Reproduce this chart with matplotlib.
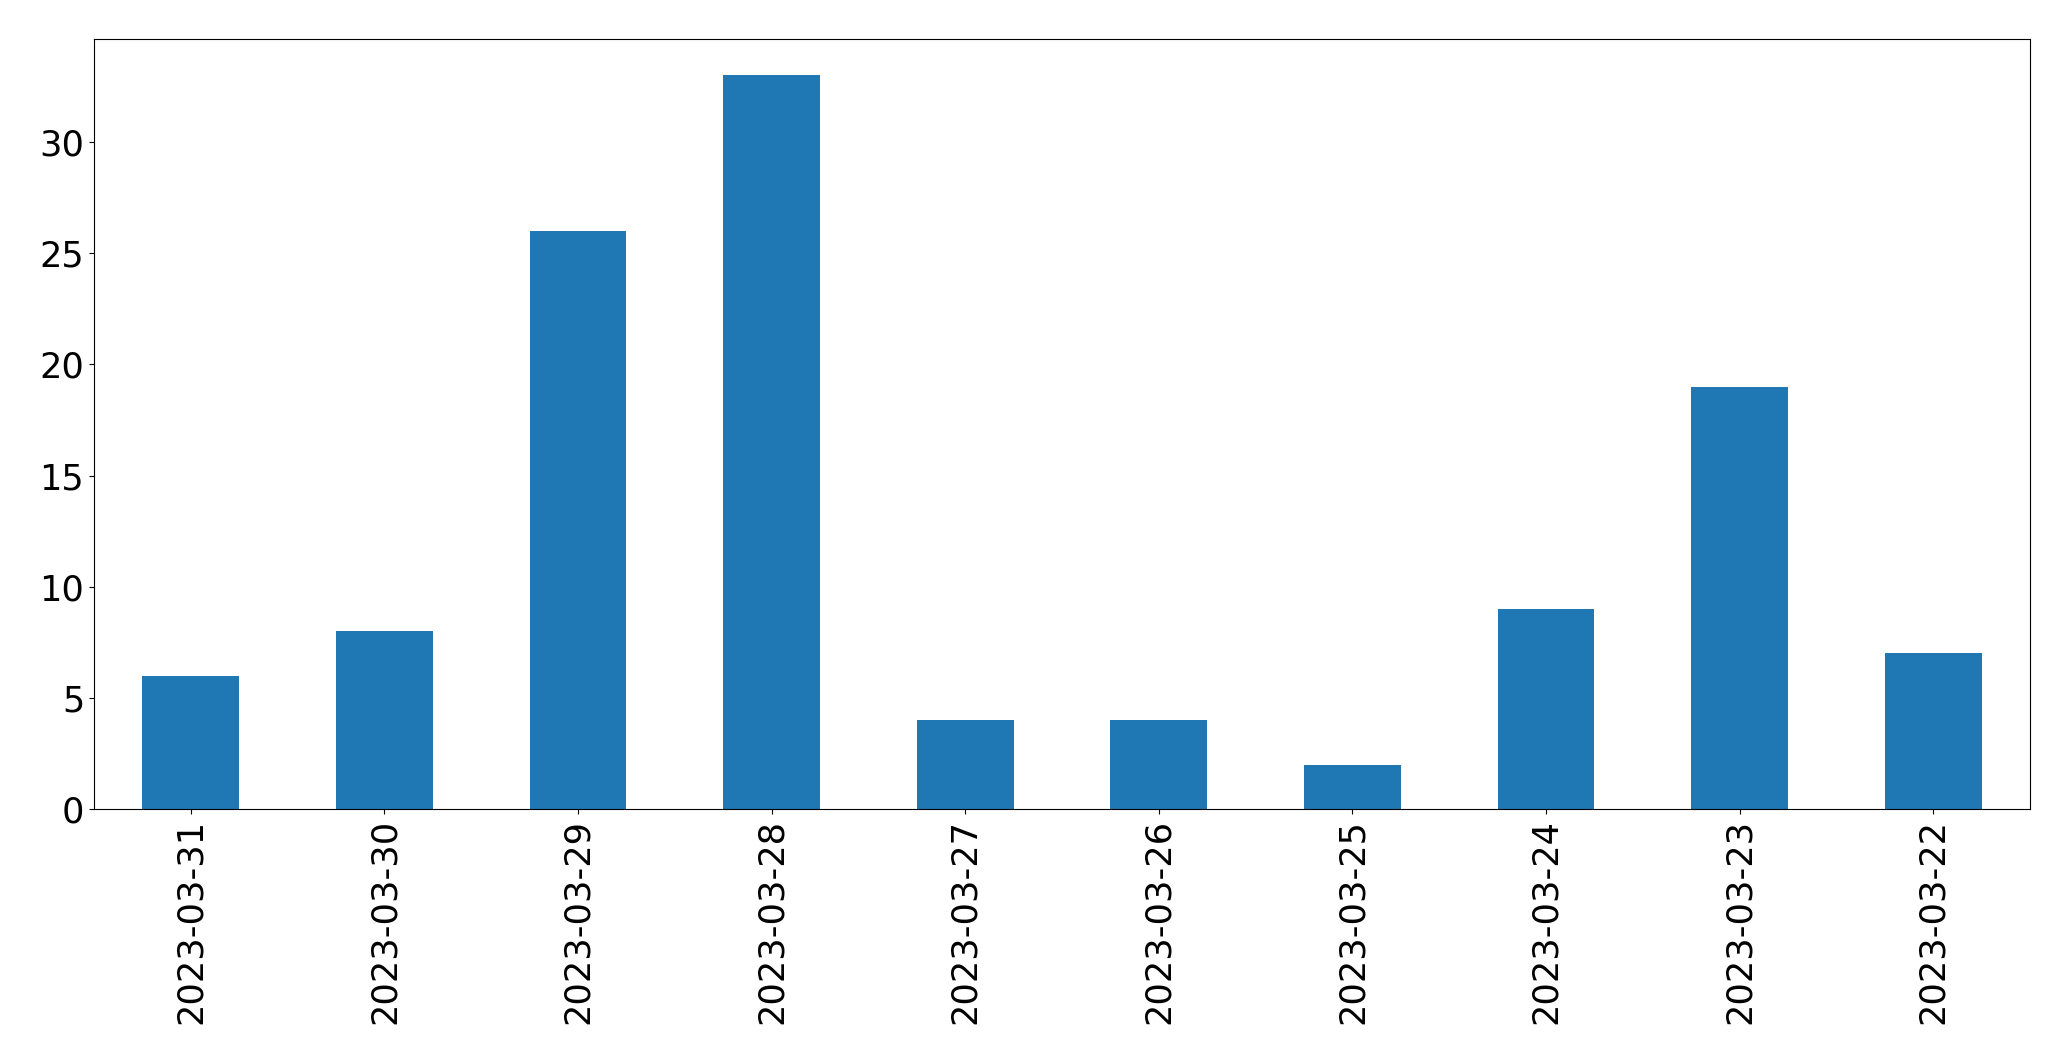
import matplotlib
matplotlib.use("Agg")
import matplotlib.pyplot as plt
import pandas as pd

dates = ["2023-03-31", "2023-03-30", "2023-03-29", "2023-03-28", "2023-03-27",
         "2023-03-26", "2023-03-25", "2023-03-24", "2023-03-23", "2023-03-22"]
counts = [6, 8, 26, 33, 4, 4, 2, 9, 19, 7]

s = pd.Series(counts, index=dates)

fig = plt.figure(figsize=(20.71, 10.61), dpi=100)
ax = fig.add_axes([0.0454, 0.2375, 0.9348, 0.7260])
s.plot(kind="bar", ax=ax, color="#1f77b4", fontsize=25.3)
ax.tick_params(axis="x", rotation=90)

fig.savefig("out.png", dpi=100)
